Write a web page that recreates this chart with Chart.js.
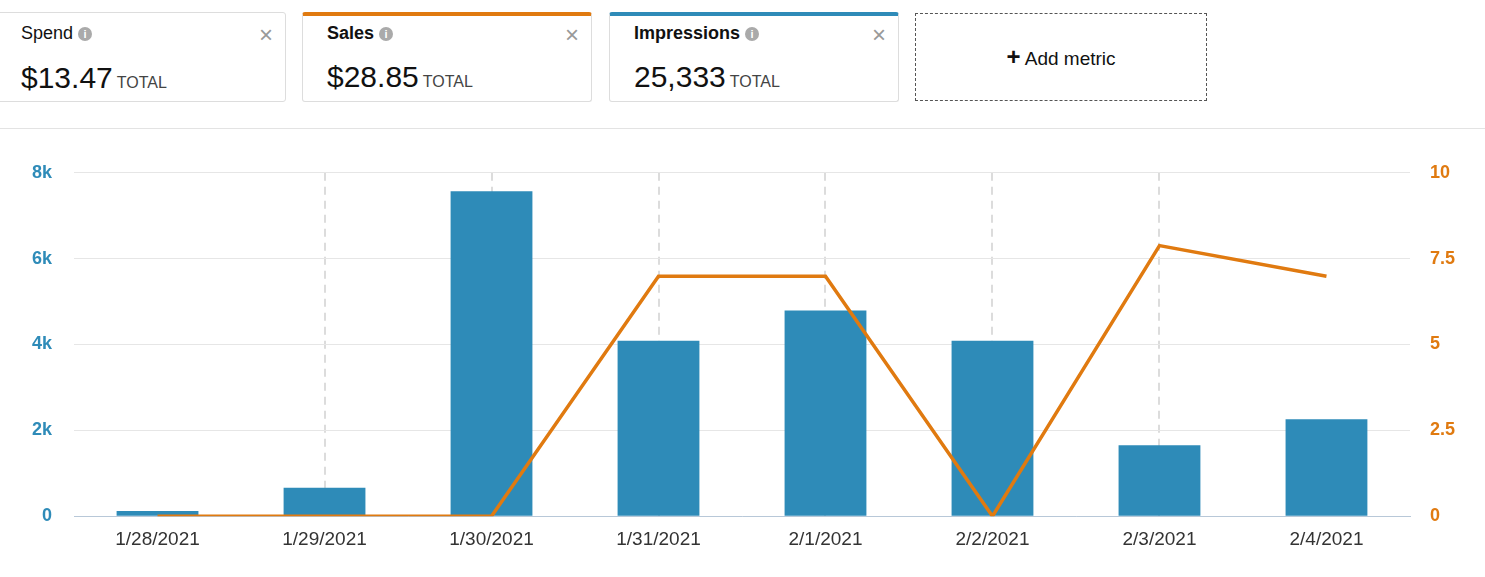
<!DOCTYPE html>
<html><head><meta charset="utf-8">
<script src="https://cdn.jsdelivr.net/npm/chart.js@4/dist/chart.umd.min.js"></script>
<style>
body{margin:0;width:1485px;height:577px;background:#fff;font-family:"Liberation Sans",Arial,sans-serif;overflow:hidden;position:relative}
.card{position:absolute;top:12px;height:90px;width:290px;border:1px solid #ddd;border-radius:3px;box-sizing:border-box;background:#fff}
.card .t{position:absolute;left:18px;top:10px;font-size:18px;color:#111}
.card .i{display:inline-block;width:14px;height:14px;border-radius:50%;background:#aaa;color:#fff;font-size:11px;text-align:center;line-height:14px;font-weight:bold;vertical-align:1px;margin-left:5px}
.card .x{position:absolute;right:12px;top:8px;font-size:24px;color:#999}
.card .v{position:absolute;left:18px;top:48px;font-size:30px;color:#111}
.card .v span{font-size:16px;color:#444;margin-left:4px}
#sep{position:absolute;left:0;right:0;top:128px;border-top:1px solid #e3e3e3}
</style></head><body>
<div class="card" style="left:-4px"><div class="t" style="left:24px">Spend<span class="i">i</span></div><div class="x">×</div><div class="v" style="left:24px">$13.47<span>TOTAL</span></div></div>
<div class="card" style="left:302px;border-top:4px solid #e07a10"><div class="t" style="top:7px;font-weight:bold;left:24px">Sales<span class="i">i</span></div><div class="x" style="top:5px">×</div><div class="v" style="top:44px;left:24px">$28.85<span>TOTAL</span></div></div>
<div class="card" style="left:609px;border-top:4px solid #2e8bb8"><div class="t" style="top:7px;font-weight:bold;left:24px">Impressions<span class="i">i</span></div><div class="x" style="top:5px">×</div><div class="v" style="top:44px;left:24px">25,333<span>TOTAL</span></div></div>
<div style="position:absolute;left:915px;top:13px;width:292px;height:88px;border:1px dashed #555;box-sizing:border-box;text-align:center;line-height:86px;font-size:19px;color:#111"><b style="font-size:24px">+</b> Add metric</div>
<div id="sep"></div>
<div style="position:absolute;left:0;top:140px;width:1485px;height:437px"><canvas id="c"></canvas></div>
<script>
const categories=["1/28/2021","1/29/2021","1/30/2021","1/31/2021","2/1/2021","2/2/2021","2/3/2021","2/4/2021"];
const impressions=[120,660,7570,4090,4790,4090,1650,2260];
const sales=[0,0,0,6.99,6.99,0,7.88,6.99];
new Chart(document.getElementById('c'),{
 data:{labels:categories,datasets:[
  {type:'line',data:sales,yAxisID:'y2',borderColor:'#e07a10',borderWidth:3.5,pointRadius:0,tension:0,order:0},
  {type:'bar',data:impressions,yAxisID:'y',backgroundColor:'#2e8bb8',barPercentage:0.49,categoryPercentage:1,order:1}
 ]},
 options:{responsive:true,maintainAspectRatio:false,animation:false,
  layout:{padding:{left:10,right:10,top:8,bottom:14}},
  plugins:{legend:{display:false},tooltip:{enabled:false}},
  scales:{
   x:{grid:{offset:false,color:c=>(c.index>0&&c.index<7)?'#dcdcdc':'rgba(0,0,0,0)',lineWidth:2,drawTicks:false},
      border:{color:'#b8c8d8',dash:[8,6]},
      ticks:{color:'#333',font:{size:19,family:'Liberation Sans'},padding:12}},
   y:{min:0,max:8000,position:'left',ticks:{stepSize:2000,color:'#2e8bb8',font:{size:18,weight:'bold',family:'Liberation Sans'},padding:22,callback:v=>v===0?'0':(v/1000)+'k'},
      grid:{color:'#e6e6e6',drawTicks:false},border:{display:false}},
   y2:{min:0,max:10,position:'right',ticks:{stepSize:2.5,color:'#e07a10',font:{size:18,weight:'bold',family:'Liberation Sans'},padding:20},
      grid:{display:false,drawTicks:false},border:{display:false}}
  }}
});
</script></body></html>
